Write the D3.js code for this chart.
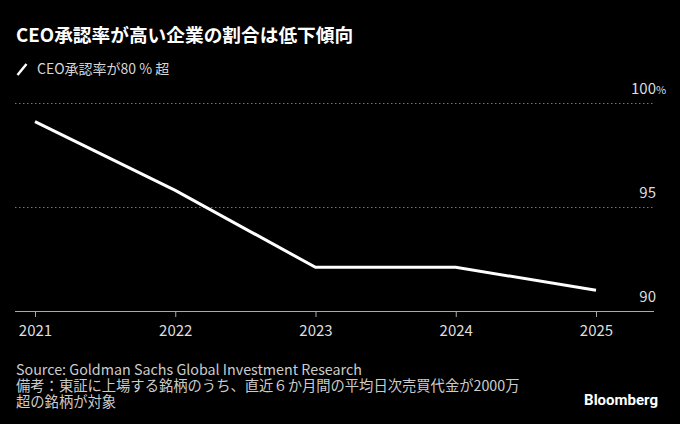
<!DOCTYPE html>
<html>
<head>
<meta charset="utf-8">
<script src="https://cdn.jsdelivr.net/npm/d3@7"></script>
<style>
  html, body { margin: 0; padding: 0; background: #000; }
  svg text { font-family: "Noto Sans CJK JP", "Noto Sans", sans-serif; }
</style>
</head>
<body>
<svg id="chart" width="680" height="424"></svg>
<script>
// data
var years = [2021, 2022, 2023, 2024, 2025];
var shareOver80 = [99.1, 95.8, 92.1, 92.1, 91.0];
var yTicks = [90, 95, 100];
var sourceLines = [
    "Source: Goldman Sachs Global Investment Research",
    "備考：東証に上場する銘柄のうち、直近６か月間の平均日次売買代金が2000万",
    "超の銘柄が対象"
];

var svg = d3.select("#chart");
svg.append("rect").attr("width", 680).attr("height", 424).attr("fill", "#000");

var left = 15, right = 654;
var x = d3.scaleLinear().domain([2021, 2025]).range([35, 596]);
var y = d3.scaleLinear().domain([90, 100]).range([311, 103]);

// title + legend
svg.append("text").attr("x", 16).attr("y", 42)
    .attr("fill", "#fff").attr("font-size", 18.7).attr("font-weight", 700)
    .text("CEO承認率が高い企業の割合は低下傾向");
svg.append("line").attr("x1", 17.5).attr("y1", 75).attr("x2", 26.5).attr("y2", 64)
    .attr("stroke", "#fff").attr("stroke-width", 2.5);
svg.append("text").attr("x", 37).attr("y", 74)
    .attr("fill", "#d6d6d6").attr("font-size", 14)
    .text("CEO承認率が80 % 超");

// gridlines (dotted), not on the baseline
svg.append("g").selectAll("line").data(yTicks.filter(function (d) { return d > 90; }))
    .enter().append("line")
    .attr("x1", left).attr("x2", right)
    .attr("y1", function (d) { return y(d) + 0.5; })
    .attr("y2", function (d) { return y(d) + 0.5; })
    .attr("stroke", "#777").attr("stroke-width", 1).attr("stroke-dasharray", "1.5,2.5");

// y labels on the right
svg.append("g").selectAll("text").data(yTicks).enter().append("text")
    .attr("x", 656).attr("y", function (d) { return y(d) - 9; })
    .attr("text-anchor", "end").attr("fill", "#ddd").attr("font-size", 15)
    .text(function (d) { return d; });
svg.append("text").attr("x", 656).attr("y", y(100) - 9)
    .attr("fill", "#ddd").attr("font-size", 11).text("%");

// x axis
var xAxis = d3.axisBottom(x).tickValues(years).tickFormat(d3.format("d")).tickSize(6).tickPadding(8);
var gx = svg.append("g").attr("transform", "translate(0," + y(90) + ")").call(xAxis);
gx.select(".domain").remove();
gx.append("line").attr("x1", left).attr("x2", right).attr("y1", 0.5).attr("y2", 0.5)
    .attr("stroke", "#aaa").attr("stroke-width", 1);
gx.selectAll(".tick line").attr("stroke", "#aaa");
gx.selectAll(".tick text").attr("fill", "#ddd").attr("font-size", 15)
    .style("font-family", "'Noto Sans CJK JP', 'Noto Sans', sans-serif");

// series line
var line = d3.line()
    .x(function (d, i) { return x(years[i]); })
    .y(function (d) { return y(d); });
svg.append("path").datum(shareOver80)
    .attr("d", line).attr("fill", "none")
    .attr("stroke", "#fff").attr("stroke-width", 3);

// footer
svg.append("g").selectAll("text").data(sourceLines).enter().append("text")
    .attr("x", 16).attr("y", function (d, i) { return 375 + i * 16; })
    .attr("fill", "#ccc").attr("font-size", 14.3)
    .text(function (d) { return d; });
svg.append("text").attr("x", 658).attr("y", 405).attr("text-anchor", "end")
    .attr("fill", "#fff").attr("font-size", 15).attr("font-weight", 700)
    .style("font-family", "Roboto, 'Noto Sans', sans-serif")
    .text("Bloomberg");
</script>
</body>
</html>
